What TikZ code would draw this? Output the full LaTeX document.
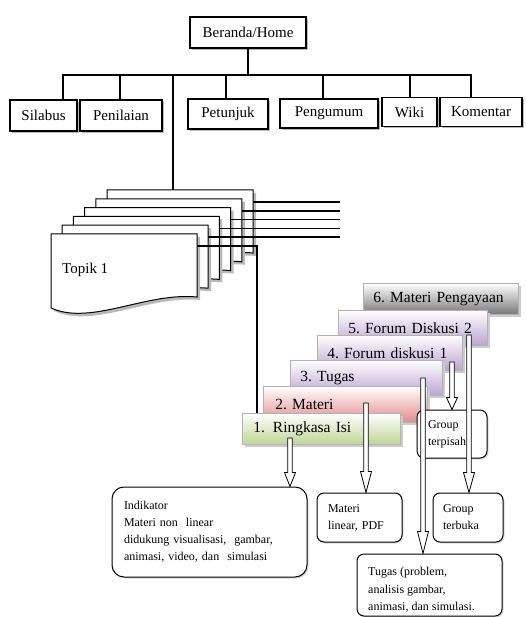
\documentclass[tikz,border=0pt]{standalone}
\usepackage{fontspec}
\setmainfont{Liberation Serif}
\usetikzlibrary{calc,shadows}
\definecolor{gsix}{RGB}{120,120,120}
\definecolor{glav}{RGB}{185,165,208}
\definecolor{gpink}{RGB}{226,140,140}
\definecolor{ggreen}{RGB}{190,214,150}
\frenchspacing
\tikzset{
 conn/.style={line width=1.5pt},
 topbox/.style={draw, line width=1.2pt, fill=white, font=\fontsize{15}{18}\selectfont,
   minimum height=30pt, inner sep=0pt,
   drop shadow={shadow xshift=2pt,shadow yshift=-2pt,fill=gray!55,opacity=1}},
 gbox/.style={draw=gray!60, line width=0.6pt, anchor=north west, align=left,
   inner xsep=10pt, inner ysep=0pt, font=\fontsize{15.5}{19}\selectfont,
   drop shadow={shadow xshift=3pt,shadow yshift=-3pt,fill=gray!40,opacity=1}},
 rbox/.style={draw, line width=1pt, rounded corners=7pt, fill=white, align=left,
   font=\fontsize{12}{17}\selectfont, inner ysep=0pt,
   drop shadow={shadow xshift=1.5pt,shadow yshift=-1.5pt,fill=gray!30,opacity=1}},
 hollow/.style={draw, fill=white, line width=0.8pt, line join=miter},
}
% #1 start coordinate, #2 target node, #3 head length
\newcommand\harrow[3]{%
 \draw[hollow] let \p1=(#1), \p2=(#2.north) in
   (\x1-2.3pt,\y1) -- (\x1-2.3pt,\y2+#3) -- (\x1-5.5pt,\y2+#3) -- (\x1,\y2)
   -- (\x1+5.5pt,\y2+#3) -- (\x1+2.3pt,\y2+#3) -- (\x1+2.3pt,\y1) -- cycle;}
\begin{document}
\begin{tikzpicture}[x=1pt,y=-1pt]
\useasboundingbox (0,0) rectangle (525,617);

% ---------- top level ----------
\node[topbox, line width=2.2pt, minimum width=116pt, minimum height=31pt] (home) at (248,32.5) {Beranda/Home};
\coordinate (bus) at (248,75);
\node[topbox, minimum width=67pt, minimum height=31pt] (sil) at (43.5,115.5) {Silabus};
\node[topbox, minimum width=82pt, minimum height=31pt] (pen) at (121,115.5) {Penilaian};
\node[topbox, minimum width=80pt] (pet) at (228,114) {Petunjuk};
\node[topbox, minimum width=98pt, minimum height=29pt] (peng) at (329,113.5) {Pengumum};
\node[topbox, minimum width=55pt, minimum height=29pt] (wiki) at (409.5,112) {Wiki};
\node[topbox, minimum width=82pt, minimum height=29pt] (kom) at (481,112) {Komentar};

\draw[conn] (home.south) -- (bus);
\draw[conn] ([xshift=19.5pt]sil.north) |- (bus);
\draw[conn] ([xshift=-1pt]pen.north) |- (bus);
\draw[conn] ([xshift=-2pt]pet.north) |- (bus);
\draw[conn] ([xshift=-6pt]peng.north) |- (bus);
\draw[conn] ([xshift=0.5pt]wiki.north) |- (bus);
\draw[conn] ([xshift=-10pt]kom.north) |- (bus);

% ---------- stacked pages ----------
\foreach \i in {5,4,3,2,1,0} {
  \coordinate (pg\i) at ({51+11.2*\i},{234-8.8*\i});
  \begin{scope}[shift={(pg\i)}]
    \fill[gray!55] (3,3) -- (149,3) -- (149,66) .. controls (98,61) and (43,95) .. (3,77) -- cycle;
    \draw[fill=white, line width=1pt] (0,0) -- (146,0) -- (146,63) .. controls (95,58) and (40,92) .. (0,74) -- cycle;
  \end{scope}
}
\node[font=\fontsize{15}{18}\selectfont, anchor=west, inner sep=0pt] (topik) at (62,270) {Topik 1};

\coordinate (tp) at (173,190);
\draw[conn] (bus -| tp) -- (tp);

\foreach \i in {5,4,3,2,1} {
  \coordinate (pe\i) at (340,{234-8.8*\i+12});
  \draw[conn] ([shift={(146,12)}]pg\i) -- (pe\i);
}

% ---------- gradient boxes ----------
\node[gbox, top color=white, bottom color=gsix, text width=135pt, minimum height=31pt] (r6) at (363,283) {\mbox{6. Materi Pengayaan}};
\node[gbox, top color=white, bottom color=glav, text width=129pt, minimum height=35pt] (r5) at (338,310) {\mbox{5. Forum Diskusi 2}};
\node[gbox, top color=white, bottom color=glav, text width=125pt, minimum height=35pt] (r4) at (317,335) {\mbox{4. Forum diskusi 1}};
\node[gbox, top color=white, bottom color=glav, text width=132pt, minimum height=35pt] (r3) at (290,360) {\mbox{3. Tugas}};
\node[gbox, top color=white, bottom color=gpink, text width=140pt, minimum height=36pt, inner xsep=12pt] (r2) at (263,386) {\mbox{2. Materi}};
\node[gbox, top color=white, bottom color=ggreen, text width=136pt, minimum height=31pt, inner xsep=11pt] (r1) at (242,413) {\mbox{1.\hspace{8pt}Ringkasa Isi}};

\draw[conn] ([shift={(146,12)}]pg0) -| ([xshift=15pt]r1.north west);

% ---------- bottom boxes ----------
\node[rbox, rounded corners=12pt, minimum width=195pt, minimum height=90pt, text width=171pt, inner xsep=12pt] (ind) at (209.5,532)
  {Indikator\\Materi non\ \ linear\\didukung visualisasi,\ \ gambar,\\animasi, video, dan\ \ simulasi};
\node[rbox, minimum width=85pt, minimum height=49pt, text width=63pt, inner xsep=11pt] (mat) at (359.5,517.5) {Materi\\linear, PDF};
\node[rbox, minimum width=70pt, minimum height=49pt, text width=50pt, inner xsep=10pt] (ter) at (468,517.5) {Group\\terbuka};
\node[rbox, minimum width=70pt, minimum height=48pt, text width=48pt, inner xsep=11pt] (grp) at (452,434) {Group\\terpisah};
\node[rbox, minimum width=145pt, minimum height=62pt] (tug) at (429.5,585) {};
\node[font=\fontsize{12}{17.5}\selectfont, align=left, anchor=north west, inner sep=0pt] (tugtext) at (368,567)
  {Tugas (problem,\\analisis gambar,\\animasi, dan simulasi.};

% ---------- hollow arrows ----------
\coordinate (s1) at (290,438);
\coordinate (s2) at (366,403);
\coordinate (s3) at (423,378);
\coordinate (s4) at (452,362);
\coordinate (s5) at (469,335);
\harrow{s1}{ind}{14pt}
\harrow{s2}{mat}{21pt}
\harrow{s3}{tug}{22pt}
\harrow{s4}{grp}{12pt}
\harrow{s5}{ter}{20pt}
\end{tikzpicture}
\end{document}
